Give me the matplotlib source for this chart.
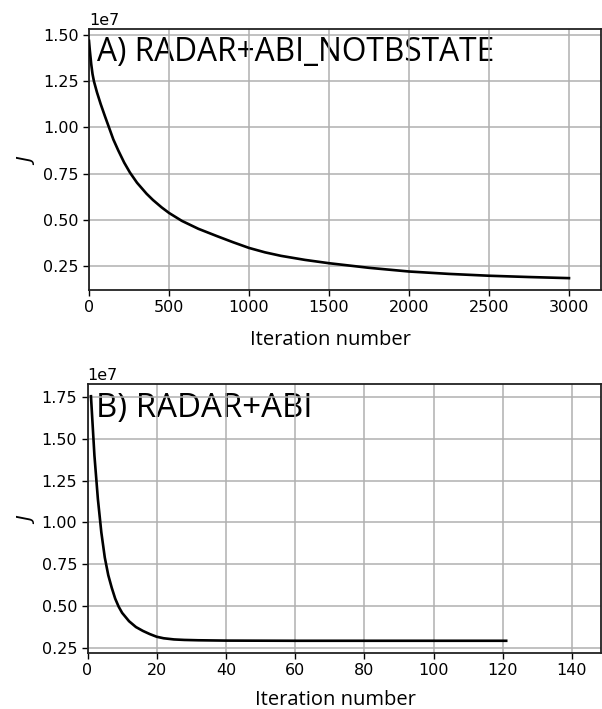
import matplotlib
matplotlib.use("Agg")
import matplotlib.pyplot as plt
import numpy as np

# Panel A: RADAR+ABI_NOTBSTATE (cost function J, units of 1e7)
iter_a = [0, 5, 14, 22, 31, 50, 73, 100, 125, 152, 183, 220, 256, 300, 360,
          400, 454, 500, 580, 683, 800, 900, 1000, 1100, 1200, 1350, 1500, 1750,
          2000, 2250, 2500, 2750, 3000]
cost_a = [1.47, 1.42, 1.343, 1.29, 1.25, 1.19, 1.127, 1.06, 1.00, 0.935, 0.875,
          0.809, 0.755, 0.70, 0.64, 0.606, 0.566, 0.536, 0.493, 0.450, 0.41,
          0.377, 0.346, 0.322, 0.303, 0.281, 0.263, 0.238, 0.218, 0.205, 0.195,
          0.188, 0.182]

# Panel B: RADAR+ABI
iter_b = [1, 2, 3, 4, 5, 6, 7, 8, 9, 10, 11, 12, 14, 16, 18, 20, 22, 25, 28, 32,
          40, 60, 80, 100, 121]
cost_b = [1.754, 1.40, 1.14, 0.94, 0.79, 0.685, 0.61, 0.545, 0.497, 0.46, 0.435,
          0.41, 0.375, 0.352, 0.333, 0.317, 0.308, 0.301, 0.298, 0.296, 0.294,
          0.293, 0.293, 0.293, 0.293]

titles = ["A) RADAR+ABI_NOTBSTATE", "B) RADAR+ABI"]
xlabel = "Iteration number"
ylabel = "$J$"

plt.rcParams["font.family"] = ["DejaVu Sans"]
fig = plt.figure(figsize=(6.02, 7.09), dpi=100)
axA = fig.add_axes([89/602, 1-290/709, 512/602, 261/709])
axB = fig.add_axes([87.5/602, 1-653/709, 513.5/602, 269/709])

for ax, xs, ys, title, xmax, lx, ly, tsize, ty in [
        (axA, iter_a, cost_a, titles[0], 3200, (330-89)/512, -0.155, 22.8, 0.975),
        (axB, iter_b, cost_b, titles[1], 148.4, (335-87.5)/513.5, -0.136, 23.8, 0.97)]:
    ax.plot(xs, np.array(ys)*1e7, color="black", lw=1.9, zorder=3)
    ax.set_xlim(0, xmax)
    ax.grid(True, color="#b0b0b0", lw=1.1, zorder=1.5)
    ax.tick_params(labelsize=11.5, width=1.0, length=4)
    for s in ax.spines.values():
        s.set_linewidth(1.3)
        s.set_color("#222222")
    ax.yaxis.get_offset_text().set_fontsize(11.5)
    ax.set_ylabel(ylabel, fontsize=14)
    ax.set_xlabel(xlabel, family="Open Sans", fontsize=14.5)
    ax.xaxis.set_label_coords(lx, ly)
    ax.text(0.016, ty, title, transform=ax.transAxes, family="Open Sans",
            fontsize=tsize, va="top", ha="left", zorder=1)

axA.set_yticks(np.array([0.25, 0.5, 0.75, 1.0, 1.25, 1.5])*1e7)
axB.set_yticks(np.array([0.25, 0.5, 0.75, 1.0, 1.25, 1.5, 1.75])*1e7)
axA.set_xticks([0, 500, 1000, 1500, 2000, 2500, 3000])
axB.set_xticks([0, 20, 40, 60, 80, 100, 120, 140])
axA.yaxis.set_label_coords(-0.102, 0.5)
axB.yaxis.set_label_coords(-0.098, 0.5)

fig.savefig("out.png", dpi=100)
